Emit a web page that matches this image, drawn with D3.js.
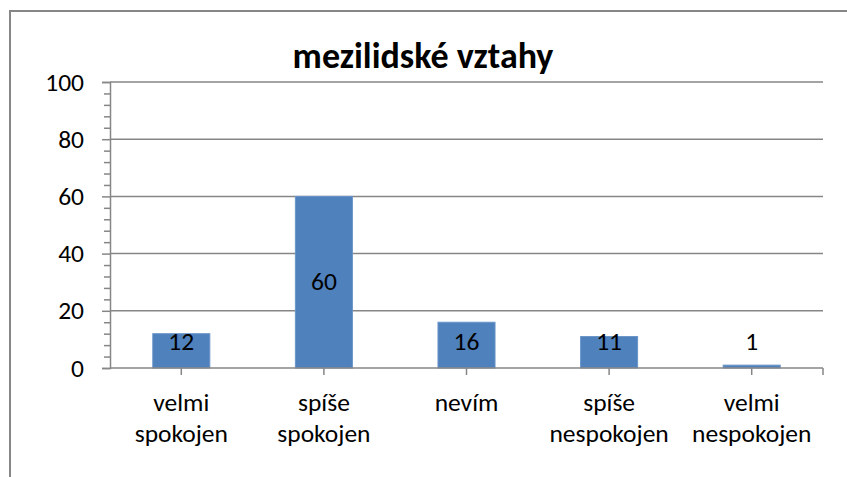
<!DOCTYPE html>
<html><head><meta charset="utf-8">
<script src="https://cdn.jsdelivr.net/npm/d3@7/dist/d3.min.js"></script>
<style>
html,body{margin:0;padding:0;background:#fff;}
svg{display:block;}
text{font-family:Carlito,Lato,"Liberation Sans",sans-serif;fill:#000;}
</style></head>
<body>
<svg id="chart" width="847" height="477"></svg>
<script>
const title = "mezilidské vztahy";
const categories = [["velmi","spokojen"],["spíše","spokojen"],["nevím"],["spíše","nespokojen"],["velmi","nespokojen"]];
const values = [12, 60, 16, 11, 1];
const yTicks = [0, 20, 40, 60, 80, 100];
const yMinorTicks = [4,8,12,16,24,28,32,36,44,48,52,56,64,68,72,76,84,88,92,96];

(function(){
const svg = d3.select("#chart");
const pLeft = 110, pRight = 823, pTop = 82, pBottom = 368;
const grey = "#868686";
const fs = "25.5px";

svg.append("rect").attr("x",10).attr("y",11).attr("width",860).attr("height",500)
  .attr("fill","none").attr("stroke",grey).attr("stroke-width",2);

const x = d3.scaleBand().domain(categories.map((d,i)=>i)).range([pLeft,pRight]).paddingInner(0.6).paddingOuter(0.3);
const xc = i => x(i) + x.bandwidth()/2;
const y = d3.scaleLinear().domain([0,100]).range([pBottom,pTop]);

svg.append("g").selectAll("line").data(yTicks.filter(t=>t>0)).join("line")
  .attr("x1",pLeft).attr("x2",pRight).attr("y1",d=>y(d)).attr("y2",d=>y(d))
  .attr("stroke",grey).attr("stroke-width",1.5);

const yAxis = d3.axisLeft(y).tickValues(yTicks).tickSize(8).tickPadding(18).tickFormat(d3.format("d"));
const ga = svg.append("g").attr("transform",`translate(${pLeft},0)`).call(yAxis);
ga.select(".domain").attr("stroke",grey).attr("stroke-width",1.5);
ga.selectAll(".tick line").attr("stroke",grey).attr("stroke-width",1.5);
ga.selectAll(".tick text").style("font-size",fs).attr("dy","0.32em").style("font-family","Carlito,Lato,sans-serif").attr("fill","#000");
const gm = svg.append("g").attr("transform",`translate(${pLeft},0)`).call(d3.axisLeft(y).tickValues(yMinorTicks).tickSize(6).tickFormat(""));
gm.select(".domain").remove();
gm.selectAll(".tick line").attr("stroke",grey).attr("stroke-width",1.5);

svg.append("g").selectAll("rect").data(values).join("rect")
  .attr("x",(d,i)=>x(i)).attr("width",x.bandwidth())
  .attr("y",d=>y(d)).attr("height",d=>y(0)-y(d))
  .attr("fill","#4F81BD").attr("stroke","#6a95c8").attr("stroke-width",1);

svg.append("line").attr("x1",pLeft).attr("x2",pRight).attr("y1",pBottom).attr("y2",pBottom).attr("stroke",grey).attr("stroke-width",1.5);
svg.append("g").selectAll("line").data(values.map((d,i)=>xc(i)).concat([pRight])).join("line")
  .attr("x1",d=>d).attr("x2",d=>d).attr("y1",pBottom).attr("y2",pBottom+7)
  .attr("stroke",grey).attr("stroke-width",1.5);

svg.append("g").selectAll("text").data(values).join("text")
  .attr("x",(d,i)=>xc(i)).attr("y",d=>Math.min((y(d)+y(0))/2, y(0)-26))
  .attr("dy","0.32em").attr("text-anchor","middle").style("font-size",fs).text(d=>d);

const cl = svg.append("g").selectAll("text").data(categories).join("text")
  .attr("text-anchor","middle").style("font-size",fs)
  .attr("transform",(d,i)=>`translate(${xc(i)},411)`);
cl.selectAll("tspan").data(d=>d).join("tspan").attr("x",0).attr("dy",(d,j)=>j===0?0:31).text(d=>d);

svg.append("text").attr("x",423).attr("y",68).attr("text-anchor","middle")
  .style("font-size","36px").style("font-weight","bold").text(title);
})();
</script>
</body></html>
